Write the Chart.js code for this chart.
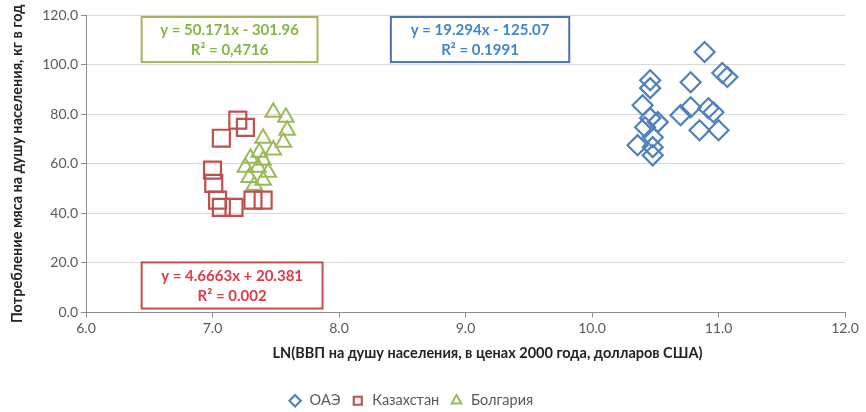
<!DOCTYPE html>
<html>
<head>
<meta charset="utf-8">
<script src="https://cdn.jsdelivr.net/npm/chart.js@4.4.0/dist/chart.umd.min.js"></script>
<style>
    html, body { margin: 0; padding: 0; background: #fff; }
    #wrap { width: 866px; height: 412px; }
</style>
</head>
<body>
<div id="wrap"><canvas id="chart" width="866" height="412"></canvas></div>
<script>
// series names (legend order)
const seriesNames = ['ОАЭ', 'Казахстан', 'Болгария'];

// ОАЭ
const uaeX = [10.89, 11.03, 11.07, 10.46, 10.46, 10.78, 10.40, 10.78, 10.92, 10.70,
              10.96, 10.46, 10.52, 10.42, 10.85, 11.00, 10.48, 10.36, 10.48, 10.48];
const uaeY = [105.1, 96.6, 95.0, 93.7, 90.5, 92.9, 83.6, 82.8, 82.4, 79.6,
              80.8, 78.4, 76.8, 74.7, 73.5, 73.5, 70.7, 67.5, 66.7, 63.4];

// Казахстан
const kazX = [7.20, 7.26, 7.07, 7.00, 7.01, 7.04, 7.07, 7.17, 7.32, 7.40];
const kazY = [77.6, 74.7, 70.3, 57.4, 52.1, 45.3, 42.4, 42.4, 45.3, 45.3];

// Болгария
const bulX = [7.48, 7.58, 7.59, 7.56, 7.40, 7.48, 7.37, 7.30, 7.26, 7.40, 7.36, 7.44, 7.29, 7.40, 7.33];
const bulY = [80.8, 78.8, 73.5, 68.7, 70.3, 65.5, 64.6, 62.2, 58.6, 61.4, 58.6, 56.6, 54.5, 53.3, 51.3];

// axes
const xMin = 6, xMax = 12, xStep = 1;
const yMin = 0, yMax = 120, yStep = 20;
const xTitle = 'LN(ВВП на душу населения, в ценах 2000 года, долларов США)';
const yTitle = 'Потребление мяса на душу населения, кг в год';

// trend line labels (Excel text boxes)
const uaeTrend = ['y = 19.294x - 125.07', 'R² = 0.1991'];
const kazTrend = ['y = 4.6663x + 20.381', 'R² = 0.002'];
const bulTrend = ['y = 50.171x - 301.96', 'R² = 0,4716'];

const toPoints = (xs, ys) => xs.map((x, i) => ({ x: x, y: ys[i] }));

// where the boxes sit, in axis units
const trendBoxes = [
    { lines: bulTrend, x0: 6.44, x1: 7.83, y0: 119.2, y1: 101.0, text: '#85b545', border: '#a4b55c' },
    { lines: uaeTrend, x0: 8.41, x1: 9.82, y0: 119.2, y1: 101.0, text: '#3f86cc', border: '#4a74b0' },
    { lines: kazTrend, x0: 6.44, x1: 7.87, y0: 20.2, y1: 1.6, text: '#e03a44', border: '#c0504d' }
];

const trendBoxPlugin = {
    id: 'trendBoxes',
    afterLayout(chart) {
        // Excel centred the legend a bit left of the canvas centre
        chart.legend.left -= 12;
        chart.legend.right -= 12;
    },
    afterDatasetsDraw(chart) {
        const ctx = chart.ctx;
        const xs = chart.scales.x, ys = chart.scales.y;
        ctx.save();
        trendBoxes.forEach(b => {
            const left = xs.getPixelForValue(b.x0), right = xs.getPixelForValue(b.x1);
            const top = ys.getPixelForValue(b.y0), bottom = ys.getPixelForValue(b.y1);
            ctx.fillStyle = '#fff';
            ctx.fillRect(left, top, right - left, bottom - top);
            ctx.strokeStyle = b.border;
            ctx.lineWidth = 2;
            ctx.strokeRect(left, top, right - left, bottom - top);
            ctx.fillStyle = b.text;
            ctx.font = 'bold 15px Lato, sans-serif';
            ctx.textAlign = 'center';
            ctx.textBaseline = 'middle';
            const cx = (left + right) / 2, h = bottom - top;
            ctx.fillText(b.lines[0], cx, top + h * 0.3);
            ctx.fillText(b.lines[1], cx, top + h * 0.73);
        });
        ctx.restore();
    },
    afterDraw(chart) {
        // x axis title, sits slightly right of the plot centre in the original
        const ctx = chart.ctx;
        const area = chart.chartArea;
        ctx.save();
        ctx.fillStyle = '#222';
        ctx.font = 'bold 14.5px Lato, sans-serif';
        ctx.textAlign = 'center';
        ctx.textBaseline = 'middle';
        ctx.fillText(xTitle, (area.left + area.right) / 2 + 22, area.bottom + 41);
        ctx.restore();
    }
};

const gray = '#595959';
const axisColor = '#8c8c8c';

new Chart(document.getElementById('chart'), {
    type: 'scatter',
    data: {
        datasets: [
            {
                label: seriesNames[0],
                data: toPoints(uaeX, uaeY),
                pointStyle: 'rectRot',
                pointRadius: 10,
                pointHoverRadius: 10,
                borderColor: '#4f81bd',
                backgroundColor: 'rgba(255,255,255,0)',
                pointBorderWidth: 2.2
            },
            {
                label: seriesNames[1],
                data: toPoints(kazX, kazY),
                pointStyle: 'rect',
                pointRadius: 12,
                pointHoverRadius: 12,
                borderColor: '#c0504d',
                backgroundColor: 'rgba(255,255,255,0)',
                pointBorderWidth: 2.2
            },
            {
                label: seriesNames[2],
                data: toPoints(bulX, bulY),
                pointStyle: 'triangle',
                pointRadius: 9,
                pointHoverRadius: 9,
                borderColor: '#9bbb59',
                backgroundColor: 'rgba(255,255,255,0)',
                pointBorderWidth: 2
            }
        ]
    },
    options: {
        responsive: false,
        animation: false,
        devicePixelRatio: 1,
        layout: { padding: { left: 0, right: 21, top: 15, bottom: -6 } },
        plugins: {
            tooltip: { enabled: false },
            legend: {
                position: 'bottom',
                labels: {
                    usePointStyle: true,
                    boxHeight: 8,
                    padding: 10,
                    color: gray,
                    font: { family: 'Lato, sans-serif', size: 14.5 }
                }
            }
        },
        scales: {
            x: {
                type: 'linear',
                min: xMin,
                max: xMax,
                ticks: {
                    stepSize: xStep,
                    color: gray,
                    font: { family: 'Lato, sans-serif', size: 14 },
                    callback: v => v.toFixed(1)
                },
                grid: { drawOnChartArea: false, tickLength: 5, tickColor: axisColor },
                border: { color: axisColor },
                afterFit: s => { s.height = 71; }
            },
            y: {
                min: yMin,
                max: yMax,
                ticks: {
                    stepSize: yStep,
                    color: gray,
                    font: { family: 'Lato, sans-serif', size: 14 },
                    callback: v => v.toFixed(1)
                },
                grid: { color: '#d9d9d9', tickLength: 5, tickColor: axisColor },
                border: { color: axisColor },
                title: {
                    display: true,
                    text: yTitle,
                    color: '#222',
                    font: { family: 'Lato, sans-serif', size: 14.5, weight: 'bold' },
                    padding: { top: 9, bottom: 0 }
                },
                afterFit: s => { s.width = 86; }
            }
        }
    },
    plugins: [trendBoxPlugin]
});
</script>
</body>
</html>
